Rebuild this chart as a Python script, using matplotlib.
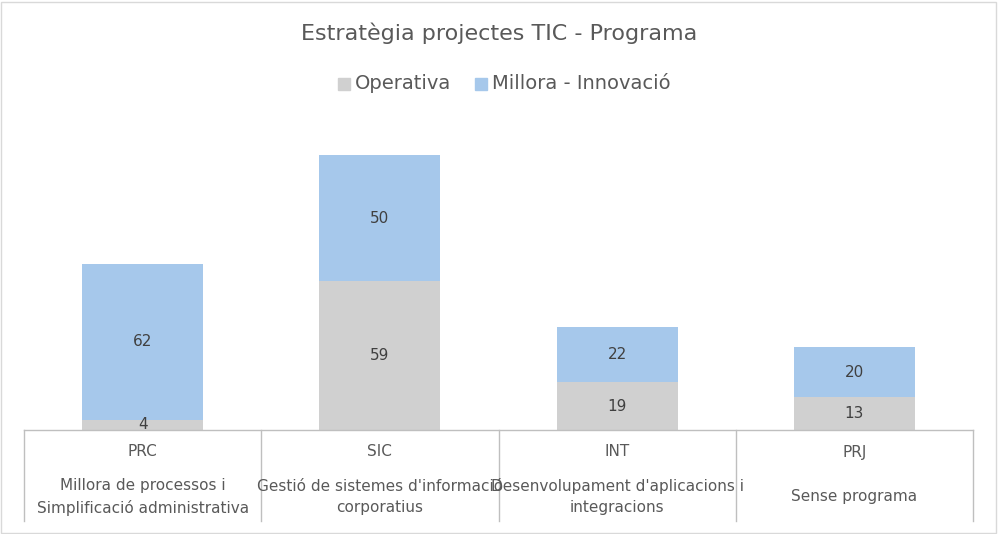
import matplotlib.pyplot as plt
from matplotlib.patches import Rectangle

codes = ["PRC", "SIC", "INT", "PRJ"]
names = ["Millora de processos i\nSimplificació administrativa",
         "Gestió de sistemes d'informació\ncorporatius",
         "Desenvolupament d'aplicacions i\nintegracions",
         "Sense programa"]
operativa = [4, 59, 19, 13]
millora = [62, 50, 22, 20]

grey = "#d0d0d0"
blue = "#a6c8eb"
txt = "#595959"

fig = plt.figure(figsize=(9.98, 5.34), dpi=100)
fig.patches.append(Rectangle((0.001, 0.002), 0.997, 0.995, transform=fig.transFigure,
                             fill=False, edgecolor="#d9d9d9", lw=1))
ax = fig.add_axes([24 / 998, 104 / 534, 949 / 998, 320 / 534])
x = list(range(len(codes)))
ax.bar(x, operativa, width=0.51, color=grey)
ax.bar(x, millora, width=0.51, bottom=operativa, color=blue)
for i in x:
    ax.text(i, operativa[i] / 2, str(operativa[i]), ha="center", va="center", fontsize=11, color="#404040")
    ax.text(i, operativa[i] + millora[i] / 2, str(millora[i]), ha="center", va="center", fontsize=11, color="#404040")
ax.set_xlim(-0.5, 3.5)
ax.set_ylim(0, 127)
ax.axis("off")

# multi-level category axis
yb = -91 / 320
ax.plot([0, 1], [0, 0], transform=ax.transAxes, color="#bfbfbf", lw=1, clip_on=False)
for k in range(5):
    ax.plot([k / 4, k / 4], [0, yb], transform=ax.transAxes, color="#bfbfbf", lw=1, clip_on=False)
for i in x:
    ax.text(i, -22 / 320 * 127, codes[i], ha="center", va="center", fontsize=11, color=txt)
    ax.text(i, -67 / 320 * 127, names[i], ha="center", va="center", fontsize=11, color=txt, linespacing=1.5)

fig.text(0.5, 1 - 33 / 534, "Estratègia projectes TIC - Programa", ha="center", va="center", fontsize=16, color=txt)
fig.patches.append(Rectangle((338 / 998, 1 - 90 / 534), 12 / 998, 12 / 534, transform=fig.transFigure, color=grey))
fig.text(355 / 998, 1 - 84 / 534, "Operativa", ha="left", va="center", fontsize=14, color=txt)
fig.patches.append(Rectangle((475 / 998, 1 - 90 / 534), 12 / 998, 12 / 534, transform=fig.transFigure, color=blue))
fig.text(492 / 998, 1 - 84 / 534, "Millora - Innovació", ha="left", va="center", fontsize=14, color=txt)

fig.savefig("out.png", dpi=100)
